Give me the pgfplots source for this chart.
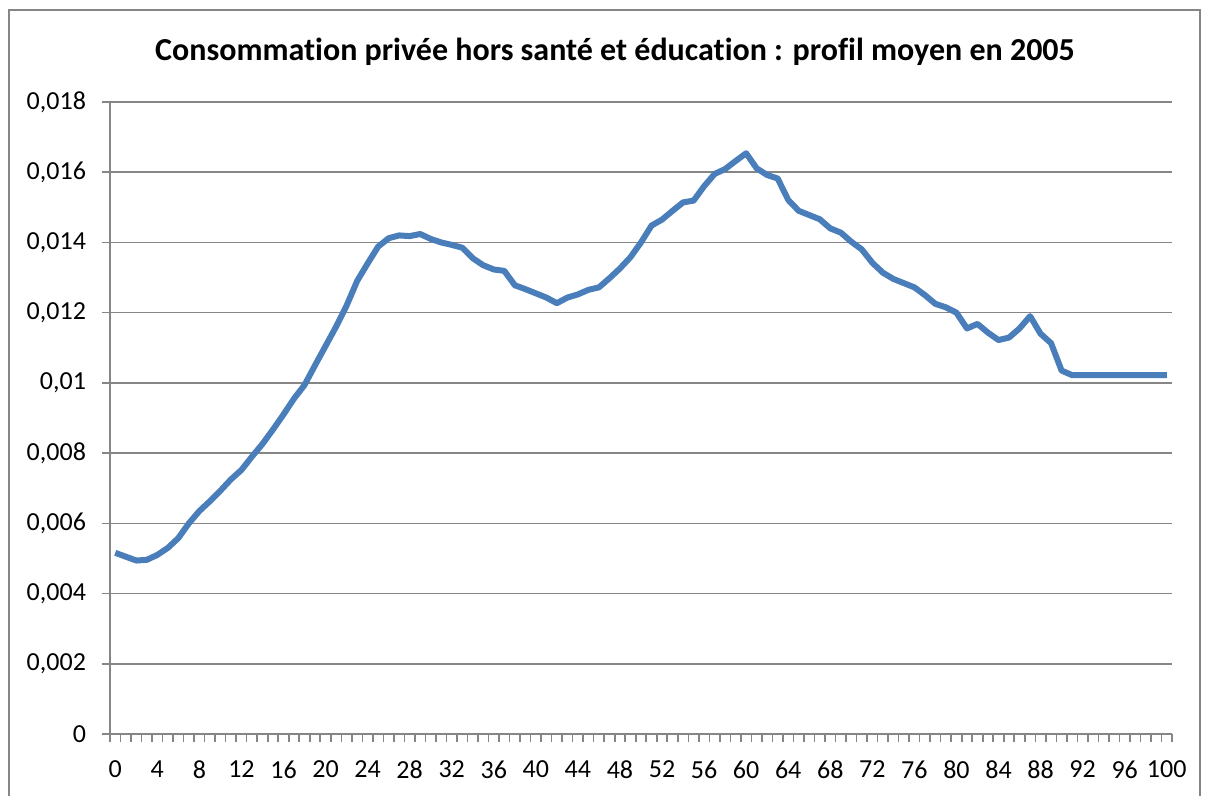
\documentclass[border=0pt]{standalone}
\usepackage{fontspec}
\setmainfont{Carlito}[Ligatures=NoCommon]
\usepackage{pgfplots}
\pgfplotsset{compat=1.18}
\definecolor{xlblue}{HTML}{4A7EBB}
\definecolor{xlgray}{HTML}{868686}

\pgfplotstableread{
age val
0 0.00516
1 0.00505
2 0.00494
3 0.00496
4 0.00510
5 0.00530
6 0.00558
7 0.00600
8 0.00635
9 0.00663
10 0.00693
11 0.00725
12 0.00752
13 0.00790
14 0.00826
15 0.00867
16 0.00910
17 0.00955
18 0.00994
19 0.01050
20 0.01105
21 0.01160
22 0.01220
23 0.01290
24 0.01340
25 0.01388
26 0.01412
27 0.01420
28 0.01418
29 0.01424
30 0.01410
31 0.01400
32 0.01393
33 0.01385
34 0.01355
35 0.01335
36 0.01323
37 0.01319
38 0.01278
39 0.01267
40 0.01255
41 0.01243
42 0.01227
43 0.01243
44 0.01252
45 0.01265
46 0.01272
47 0.01298
48 0.01326
49 0.01358
50 0.01400
51 0.01448
52 0.01465
53 0.01490
54 0.01514
55 0.01519
56 0.01560
57 0.01595
58 0.01609
59 0.01632
60 0.01654
61 0.01611
62 0.01592
63 0.01582
64 0.01521
65 0.01490
66 0.01478
67 0.01466
68 0.01440
69 0.01428
70 0.01402
71 0.01380
72 0.01342
73 0.01314
74 0.01296
75 0.01284
76 0.01272
77 0.01250
78 0.01225
79 0.01215
80 0.01200
81 0.01155
82 0.01168
83 0.01143
84 0.01122
85 0.01129
86 0.01155
87 0.01190
88 0.01140
89 0.01113
90 0.01035
91 0.01022
92 0.01022
93 0.01022
94 0.01022
95 0.01022
96 0.01022
97 0.01022
98 0.01022
99 0.01022
100 0.01022
}\profil

\begin{document}
\begin{tikzpicture}
\useasboundingbox (0,0) rectangle (602.5pt,398pt);
\draw[xlgray, line width=0.8pt] (4.5pt,-20pt) rectangle (600pt,393pt);
\node[font=\fontsize{16}{18}\selectfont\bfseries] at (307.5pt,372pt)
  {Consommation privée hors santé et éducation : profil moyen en 2005};
\begin{axis}[
  at={(55pt,31pt)}, anchor=south west,
  scale only axis,
  width=531pt, height=316pt,
  xmin=-0.5, xmax=100.5,
  ymin=0, ymax=0.018,
  axis x line*=bottom,
  axis y line*=left,
  axis line style={xlgray, line width=0.8pt, -},
  tick align=outside,
  major tick length=4pt,
  tick style={xlgray, line width=0.8pt},
  xtick={-0.5,0.5,...,100.5},
  xticklabels={},
  extra x ticks={0,4,...,100},
  extra x tick style={major tick length=0pt, grid=none},
  extra x tick labels={0,4,8,12,16,20,24,28,32,36,40,44,48,52,56,60,64,68,72,76,80,84,88,92,96,100},
  ytick={0,0.002,0.004,0.006,0.008,0.01,0.012,0.014,0.016,0.018},
  yticklabels={0,{0,002},{0,004},{0,006},{0,008},{0,01},{0,012},{0,014},{0,016},{0,018}},
  scaled y ticks=false,
  ymajorgrids,
  major grid style={xlgray, line width=0.8pt},
  tick label style={font=\fontsize{13}{15}\selectfont, black},
  yticklabel style={xshift=-4.5pt},
  xticklabel style={yshift=-10pt},
  clip=false,
]
\addplot[xlblue, line width=3pt, line join=round] table[x=age, y=val] {\profil};
\end{axis}
\end{tikzpicture}
\end{document}
